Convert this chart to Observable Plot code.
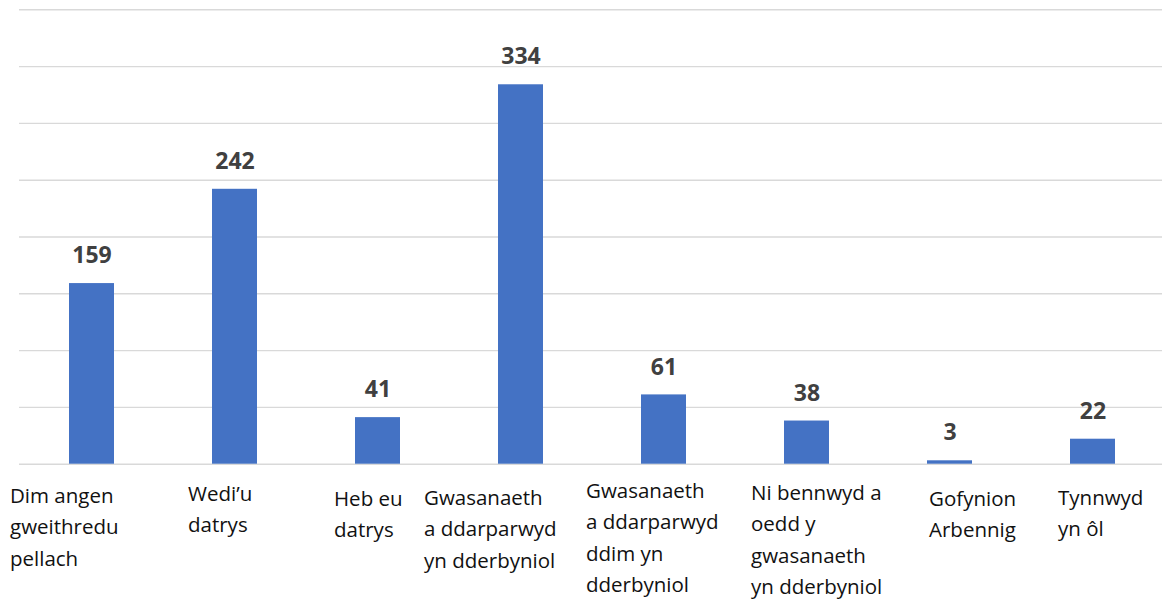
<!DOCTYPE html>
<html>
<head>
<meta charset="utf-8">
<script src="https://cdn.jsdelivr.net/npm/d3@7"></script>
<script src="https://cdn.jsdelivr.net/npm/@observablehq/plot@0.6"></script>
<style>
  html, body { margin: 0; padding: 0; background: #fff; }
  #chart svg { display: block; }
</style>
</head>
<body>
<div id="chart"></div>
<script>
const categories = [
  "Dim angen\ngweithredu\npellach",
  "Wedi’u\ndatrys",
  "Heb eu\ndatrys",
  "Gwasanaeth\na ddarparwyd\nyn dderbyniol",
  "Gwasanaeth\na ddarparwyd\nddim yn\ndderbyniol",
  "Ni bennwyd a\noedd y\ngwasanaeth\nyn dderbyniol",
  "Gofynion\nArbennig",
  "Tynnwyd\nyn ôl"
];
const values = [159, 242, 41, 334, 61, 38, 3, 22];
const gridTicks = [0, 50, 100, 150, 200, 250, 300, 350, 400];

// layout tweaks for the category labels (offset from band centre / frame bottom)
const labelDx = [-82, -47, -44, -97, -78, -56, -21, -35];
const labelDy = [16.5, 14.5, 19.5, 18.5, 11.5, 13.5, 19.5, 18.5];

const data = categories.map((c, i) => ({cat: c, value: values[i], i}));

const labelMarks = data.map((d, i) => Plot.text([d], {
  x: "cat",
  text: "cat",
  frameAnchor: "bottom",
  textAnchor: "start",
  lineAnchor: "top",
  lineHeight: 1.53,
  dx: labelDx[i],
  dy: labelDy[i],
  fontSize: 20.5,
  fill: "#111"
}));

const chart = Plot.plot({
  width: 1162,
  height: 601,
  marginTop: 9.3,
  marginBottom: 137.3,
  marginLeft: 19,
  marginRight: 0,
  style: {fontFamily: "'Open Sans', sans-serif", background: "#fff"},
  x: {domain: categories, range: [19, 1165], paddingInner: 0.686, paddingOuter: 0.343, axis: null},
  y: {domain: [0, 400], axis: null},
  marks: [
    Plot.ruleY(gridTicks, {stroke: "#d9d9d9", strokeWidth: 1.4}),
    Plot.barY(data, {x: "cat", y: "value", fill: "#4472C4"}),
    Plot.text(data, {
      x: "cat", y: "value", text: d => String(d.value),
      dy: -27.7, fontSize: 23, fontWeight: "bold", fill: "#404040"
    }),
    ...labelMarks
  ]
});
document.getElementById("chart").appendChild(chart);
</script>
</body>
</html>
